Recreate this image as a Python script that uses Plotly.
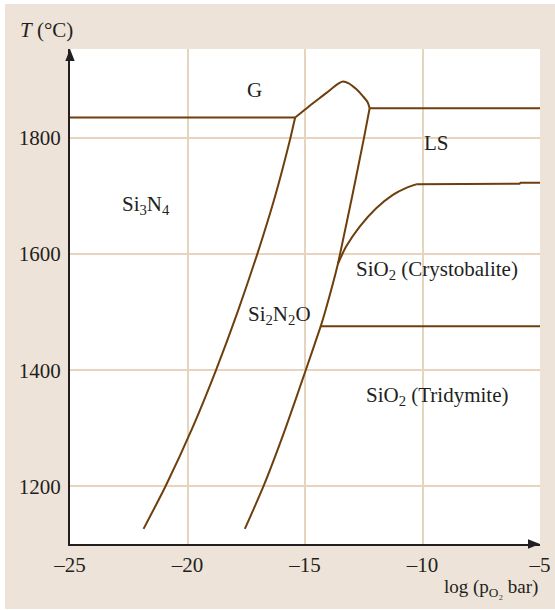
import plotly.graph_objects as go

# ---------------- data ----------------
X_RANGE = [-25, -5]
Y_RANGE = [1101, 1953]
x_ticks = [-25, -20, -15, -10, -5]
x_tick_text = ["\u201325", "\u201320", "\u201315", "\u201310", "\u20135"]
y_ticks = [1200, 1400, 1600, 1800]
y_tick_text = ["1200", "1400", "1600", "1800"]

# Si3N4 / Si2N2O boundary
b1_x = [-21.87, -20.94, -19.80, -18.79, -17.87, -17.03, -16.27, -15.62, -15.42]
b1_T = [1127, 1200, 1300, 1400, 1500, 1600, 1700, 1800, 1835]
# Si2N2O / SiO2 boundary
b2_x = [-17.56, -16.77, -15.83, -14.97, -14.33, -14.15, -13.60, -13.51, -12.99, -12.49, -12.25]
b2_T = [1127, 1200, 1300, 1400, 1476, 1500, 1583, 1600, 1700, 1800, 1851]
# Si2N2O / G dome
dome_x = [-15.42, -14.81, -14.10, -13.60, -13.39, -13.14, -12.82, -12.54, -12.33, -12.25]
dome_T = [1835, 1855, 1877, 1893, 1897, 1894, 1884, 1872, 1861, 1851]
# LS / crystobalite boundary (curved part)
cry_x = [-13.60, -13.25, -12.68, -11.97, -11.26, -10.69, -10.27]
cry_T = [1583, 1613, 1647, 1679, 1702, 1714, 1720]
# LS / crystobalite boundary (flat part)
cryflat_x = [-10.27, -5.87, -5.83, -5.0]
cryflat_T = [1720, 1721, 1723, 1723]
# G / Si3N4 horizontal
g_left_x = [-25, -15.42]
g_left_T = [1835, 1835]
# G / LS horizontal
g_right_x = [-12.25, -5.0]
g_right_T = [1851, 1851]
# crystobalite / tridymite
trid_x = [-14.33, -5.0]
trid_T = [1476, 1476]

labels = ["G", "LS", "Si<sub>3</sub>N<sub>4</sub>", "SiO<sub>2</sub> (Crystobalite)",
          "Si<sub>2</sub>N<sub>2</sub>O", "SiO<sub>2</sub> (Tridymite)"]
label_x = [-17.15, -9.39, -21.77, -9.38, -16.09, -9.38]
label_T = [1883, 1791, 1684, 1572, 1495, 1355]

# ---------------- styling ----------------
BROWN = "#6E3F0C"
GRID = "#E6D4BF"
BEIGE = "#EDE3D8"
INK = "#231F20"
FONT = "Liberation Serif"
FS = 21

fig = go.Figure()

def add_line(xs, ys, smooth=0.0):
    fig.add_trace(go.Scatter(
        x=xs, y=ys, mode="lines",
        line=dict(color=BROWN, width=2, shape="spline" if smooth else "linear",
                  smoothing=smooth if smooth else 1),
        hoverinfo="skip", showlegend=False))

add_line(b1_x, b1_T, smooth=0.6)
add_line(b2_x, b2_T, smooth=0.6)
add_line(dome_x, dome_T, smooth=0.8)
add_line(cry_x, cry_T, smooth=0.8)
add_line(cryflat_x, cryflat_T)
add_line(g_left_x, g_left_T)
add_line(g_right_x, g_right_T)
add_line(trid_x, trid_T)

for t, x, y in zip(labels, label_x, label_T):
    fig.add_annotation(x=x, y=y, xref="x", yref="y", text=t, showarrow=False,
                       font=dict(family=FONT, size=FS, color=INK))

# axis titles
fig.add_annotation(x=-0.049, y=1.038, xref="paper", yref="paper",
                   text="<i>T</i> (°C)", showarrow=False, xanchor="center",
                   yanchor="middle", font=dict(family=FONT, size=FS, color=INK))
fig.add_annotation(x=1.0, y=-0.089, xref="paper", yref="paper",
                   text="log (p<sub>O₂</sub> bar)", showarrow=False, xanchor="right",
                   yanchor="middle", font=dict(family=FONT, size=19, color=INK))

W, H = 555, 610
L, R, T, B = 70, 15, 49, 66
pw, ph = W - L - R, H - T - B

shapes = []
# white strips around beige panel
shapes.append(dict(type="rect", xref="paper", yref="paper", layer="below",
                   x0=-L / pw, x1=(5 - L) / pw, y0=-B / ph, y1=1 + T / ph,
                   fillcolor="white", line=dict(width=0)))
shapes.append(dict(type="rect", xref="paper", yref="paper", layer="below",
                   x0=-L / pw, x1=1 + R / pw, y0=1 + (T - 4) / ph, y1=1 + T / ph,
                   fillcolor="white", line=dict(width=0)))
shapes.append(dict(type="rect", xref="paper", yref="paper", layer="below",
                   x0=-L / pw, x1=1 + R / pw, y0=-B / ph, y1=-(B - 1) / ph,
                   fillcolor="white", line=dict(width=0)))
# arrowheads
ah_len, ah_half = 12, 4.7
shapes.append(dict(type="path", xref="paper", yref="paper", layer="above",
                   path=f"M {-ah_half/pw},{1-ah_len/ph} L 0,1 L {ah_half/pw},{1-ah_len/ph} Z",
                   fillcolor=INK, line=dict(width=0)))
shapes.append(dict(type="path", xref="paper", yref="paper", layer="above",
                   path=f"M {1-ah_len/pw},{-ah_half/ph} L 1,0 L {1-ah_len/pw},{ah_half/ph} Z",
                   fillcolor=INK, line=dict(width=0)))

fig.update_layout(
    width=W, height=H, autosize=False,
    margin=dict(l=L, r=R, t=T, b=B, pad=0, autoexpand=False),
    paper_bgcolor=BEIGE, plot_bgcolor="white",
    shapes=shapes,
    font=dict(family=FONT, size=FS, color=INK),
    xaxis=dict(range=X_RANGE, tickvals=x_ticks, ticktext=x_tick_text,
               showgrid=True, gridcolor=GRID, gridwidth=1.5, zeroline=False,
               showline=True, linecolor=INK, linewidth=2, mirror=False,
               ticks="outside", ticklen=1, tickcolor="rgba(0,0,0,0)",
               automargin=False,
               tickfont=dict(family=FONT, size=FS, color=INK), fixedrange=True),
    yaxis=dict(range=Y_RANGE, tickvals=y_ticks, ticktext=y_tick_text,
               showgrid=True, gridcolor=GRID, gridwidth=1.5, zeroline=False,
               showline=True, linecolor=INK, linewidth=2, mirror=False,
               ticks="outside", ticklen=3, tickcolor="rgba(0,0,0,0)",
               automargin=False,
               tickfont=dict(family=FONT, size=FS, color=INK), fixedrange=True),
)

fig.write_html("out.html", config={"displayModeBar": False})
